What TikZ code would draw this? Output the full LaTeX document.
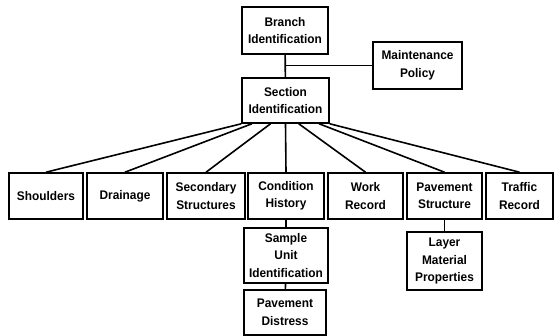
\documentclass[tikz,border=0pt]{standalone}
\usepackage{fontspec}
\setmainfont[FakeStretch=0.95]{Liberation Sans}
\usepackage{tikz}
\usetikzlibrary{calc}

\begin{document}
\begin{tikzpicture}[x=1pt, y=-1pt, line width=1.6pt,
	box/.style={draw, inner sep=0pt, align=center, font=\bfseries\fontsize{12.5}{17.5}\selectfont, minimum height=46pt}]

	\useasboundingbox (0,0) rectangle (556,336);

	% top of the tree
	\node[box, minimum width=86pt, minimum height=47pt] (branch) at (285,30.5) {Branch\\Identification};
	\node[box, minimum width=89pt, minimum height=47pt] (maint) at (417.5,65.5) {Maintenance\\Policy};
	\node[box, minimum width=87pt, minimum height=45pt] (section) at (285.5,100.5) {Section\\Identification};
	\coordinate (jn) at (branch.south |- maint.west);

	\draw (branch) -- (section);
	\draw (maint) -- (jn);

	% second row
	\node[box, minimum width=74pt] (shoulders) at (46,196) {Shoulders};
	\node[box, minimum width=76pt] (drainage) at (125,196) {Drainage};
	\node[box, minimum width=78pt] (secondary) at (206,196) {Secondary\\Structures};
	\node[box, minimum width=76pt] (condition) at (286,196) {Condition\\History};
	\node[box, minimum width=75pt] (work) at (365.5,196) {Work\\Record};
	\node[box, minimum width=75pt] (pavement) at (444.5,196) {Pavement\\Structure};
	\node[box, minimum width=67pt] (traffic) at (519.5,196) {Traffic\\Record};

	\foreach \n/\f in {shoulders/0, drainage/0.12, secondary/0.33, condition/0.5, work/0.65, pavement/0.88, traffic/1}
		\draw ($(section.south west)!\f!(section.south east)$) -- (\n.north);

	% lower boxes
	\node[box, minimum width=84pt, minimum height=55pt] (sample) at (286,255.5) {Sample\\Unit\\Identification};
	\node[box, minimum width=82pt, minimum height=45pt] (distress) at (285,312.5) {Pavement\\Distress};
	\node[box, minimum width=75pt, minimum height=58pt] (layer) at (444.5,261) {Layer\\Material\\Properties};

	\draw (condition) -- (sample);
	\draw (sample) -- (distress);
	\draw (pavement) -- (layer);

\end{tikzpicture}
\end{document}
